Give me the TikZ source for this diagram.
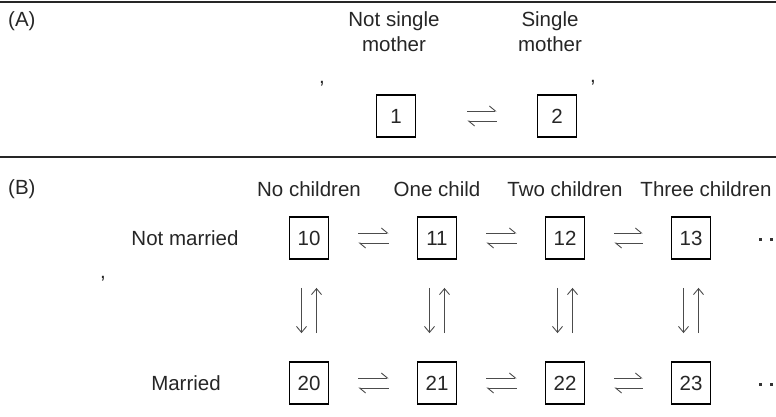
\documentclass[tikz,border=0pt]{standalone}
\usepackage{fontspec}
\setmainfont{Liberation Sans}
\usetikzlibrary{arrows.meta}

\tikzset{
  state/.style={draw=black, line width=1.8pt, minimum width=39pt, minimum height=42pt,
                inner sep=0pt, text=black!85},
  lbl/.style={inner sep=0pt, text=black!85, align=center},
  harp/.style={draw=black!70, line width=0.9pt, -{Straight Barb[harpoon, length=6pt, width=10pt]}},
  vflow/.style={draw=black!70, line width=0.9pt, -{Straight Barb[length=6pt, width=10pt]}},
  rule/.style={draw=black!85, line width=1.8pt},
  dotmark/.style={fill=black!80, minimum size=3pt, inner sep=0pt, rectangle}
}

\begin{document}
\begin{tikzpicture}[x=1pt, y=-1pt, font=\fontsize{20.5}{24}\selectfont]
\useasboundingbox (0,0) rectangle (776,416);

% section rules
\coordinate (r1a) at (0,2);   \coordinate (r1b) at (776,2);
\coordinate (r2a) at (0,157); \coordinate (r2b) at (776,157);
\draw[rule] (r1a) -- (r1b);
\draw[rule, line width=1.5pt] (r2a) -- (r2b);

% ---------- panel A ----------
\node[lbl, anchor=west] (tA) at (8,21) {(A)};
\node[lbl] (hA1) at (394,21) {Not single};
\node[lbl] (hA1b) at (394,44) {mother};
\node[lbl] (hA2) at (550,21) {Single};
\node[lbl] (hA2b) at (550,44) {mother};
\node[lbl] (cA1) at (322,84) {,};
\node[lbl] (cA2) at (593,83) {,};

\node[state] (s1) at (396,116) {1};
\node[state] (s2) at (557,116) {2};
\draw[harp, shorten <=51pt, shorten >=40pt] ([yshift=5pt]s1.east) -- ([yshift=5pt]s2.west);
\draw[harp, shorten <=40pt, shorten >=51pt] ([yshift=-5pt]s2.west) -- ([yshift=-5pt]s1.east);

% ---------- panel B ----------
\node[lbl, anchor=west] (tB) at (8,189) {(B)};
\node[lbl] (h0) at (309,189) {No children};
\node[lbl] (h1) at (437,189) {One child};
\node[lbl] (h2) at (565,189) {Two children};
\node[lbl] (h3) at (706,189) {Three children};

\node[lbl] (rowN) at (185,238) {Not married};
\node[lbl] (rowM) at (186,383) {Married};
\node[lbl] (cB) at (103,279) {,};

\foreach \i/\x in {0/309, 1/437, 2/565, 3/691}{
  \node[state] (n\i) at (\x,238) {1\i};
  \node[state] (m\i) at (\x,383) {2\i};
  \draw[vflow, shorten <=28pt, shorten >=28pt] ([xshift=-7.5pt]n\i.south) -- ([xshift=-7.5pt]m\i.north);
  \draw[vflow, shorten <=28pt, shorten >=28pt] ([xshift=7.5pt]m\i.north) -- ([xshift=7.5pt]n\i.south);
}

\foreach \a/\b in {0/1, 1/2, 2/3}{
  \draw[harp, shorten <=29pt, shorten >=28pt] ([yshift=5pt]n\a.east) -- ([yshift=5pt]n\b.west);
  \draw[harp, shorten <=28pt, shorten >=29pt] ([yshift=-5pt]n\b.west) -- ([yshift=-5pt]n\a.east);
  \draw[harp, shorten <=29pt, shorten >=28pt] ([yshift=5pt]m\a.east) -- ([yshift=5pt]m\b.west);
  \draw[harp, shorten <=28pt, shorten >=29pt] ([yshift=-5pt]m\b.west) -- ([yshift=-5pt]m\a.east);
}

% continuation dots at the row ends
\node[dotmark] (dn1) at (760,239) {};
\node[dotmark] (dn2) at (771,239) {};
\node[dotmark] (dm1) at (760,384) {};
\node[dotmark] (dm2) at (771,384) {};
\end{tikzpicture}
\end{document}
